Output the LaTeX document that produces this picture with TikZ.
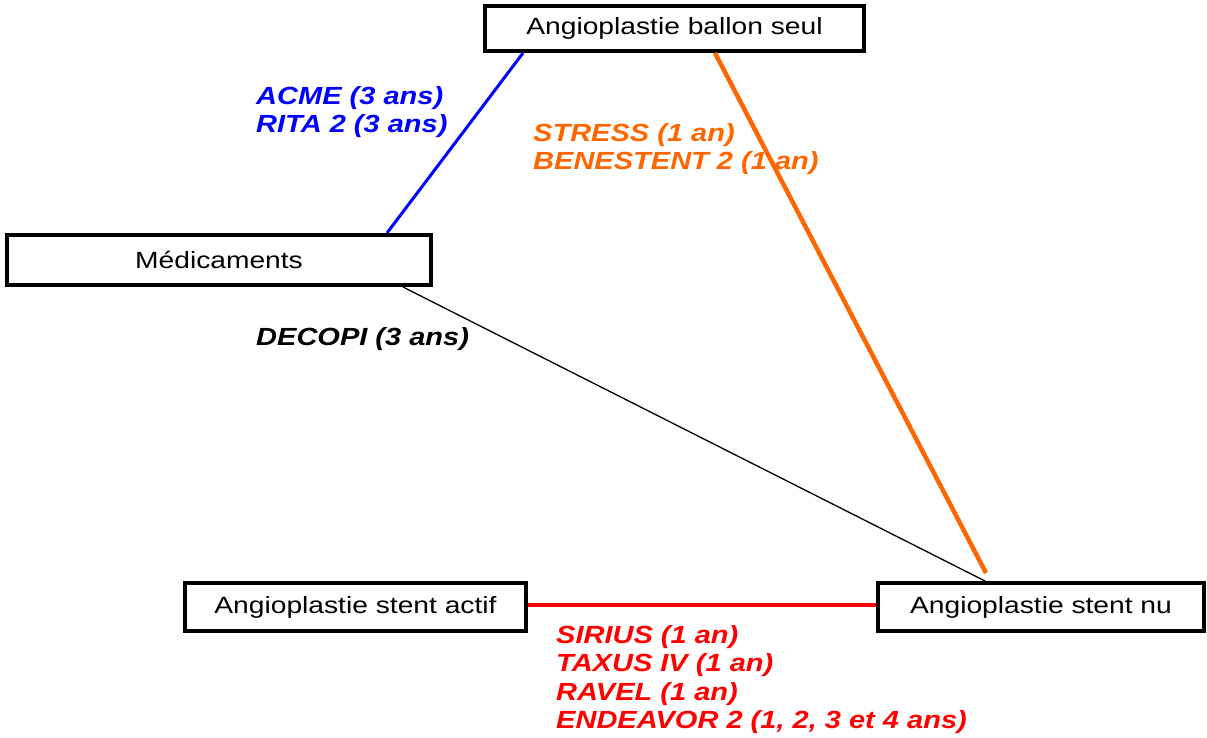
\documentclass[tikz,border=0pt]{standalone}
\usepackage{fontspec}
\setmainfont{Liberation Sans}
\usepackage{graphicx}
\definecolor{cblue}{RGB}{0,0,255}
\definecolor{corange}{RGB}{255,102,0}
\definecolor{cred}{RGB}{255,0,0}
\newcommand{\boxtxt}[1]{\fontsize{23.5}{28}\selectfont\scalebox{1.2}[1]{#1}}
\newcommand{\lbltxt}[1]{\fontsize{24.8}{28.5}\selectfont\bfseries\itshape\scalebox{1.17}[1]{\begin{tabular}[t]{@{}l@{}}#1\end{tabular}}}
\tikzset{
  tbox/.style={draw=black, line width=4pt, fill=white, inner sep=0pt, minimum height=48pt},
  lbl/.style={inner sep=0pt, anchor=base west},
}
\begin{document}
\begin{tikzpicture}[x=1pt,y=-1pt]
\useasboundingbox (0,0) rectangle (1207,737);
\node[tbox, minimum width=379pt, minimum height=45pt] (top) at (674.5,28.5) {\boxtxt{Angioplastie ballon seul}};
\node[tbox, minimum width=424pt, minimum height=50pt] (med) at (219,260) {\boxtxt{Médicaments}};
\node[tbox, minimum width=341pt] (sa) at (355.5,607) {\boxtxt{Angioplastie stent actif}};
\node[tbox, minimum width=326pt] (nu) at (1041,607) {\boxtxt{Angioplastie stent nu}};

\draw[cblue, line width=3pt] ([xshift=40pt]top.south west) -- ([xshift=382pt]med.north west);
\draw[corange, line width=4.5pt] ([xshift=232pt]top.south west) -- ([xshift=110pt,yshift=8pt]nu.north west);
\draw[black, line width=1.3pt] ([xshift=398pt]med.south west) -- ([xshift=109pt]nu.north west);
\draw[cred, line width=4pt] ([yshift=2pt]sa.east) -- ([yshift=2pt]nu.west);

\node[lbl, text=cblue] (l1) at (256,104) {\lbltxt{ACME (3 ans)\\RITA 2 (3 ans)}};
\node[lbl, text=corange] (l2) at (533,141) {\lbltxt{STRESS (1 an)\\BENESTENT 2 (1 an)}};
\node[lbl, text=black] (l3) at (256,345) {\lbltxt{DECOPI (3 ans)}};
\node[lbl, text=cred] (l4) at (556,643) {\lbltxt{SIRIUS (1 an)\\TAXUS IV (1 an)\\RAVEL (1 an)\\ENDEAVOR 2 (1, 2, 3 et 4 ans)}};
\end{tikzpicture}
\end{document}
